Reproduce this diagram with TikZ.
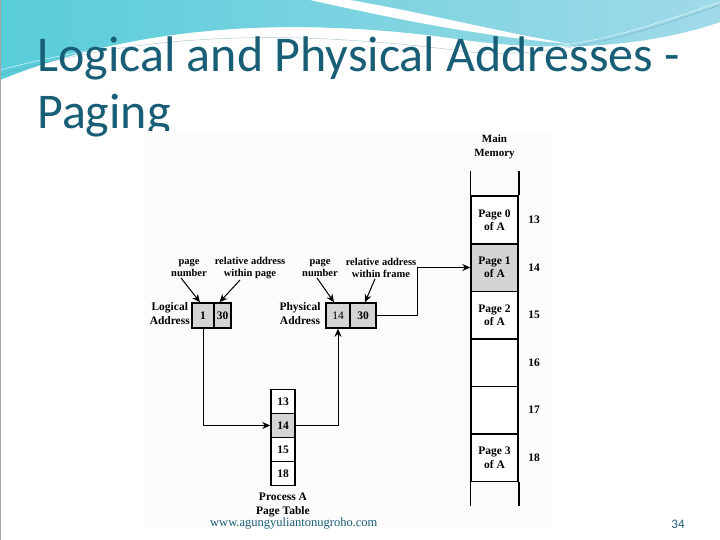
\documentclass[tikz,border=0pt]{standalone}
\usepackage{fontspec}
\setmainfont{Liberation Serif}
\newfontfamily\titlefont{Carlito}
\usetikzlibrary{arrows.meta}
\definecolor{titleteal}{RGB}{24,94,118}
\definecolor{swirlcyan}{RGB}{88,204,218}
\definecolor{swirlmid}{RGB}{118,184,212}
\definecolor{swirllight}{RGB}{160,218,232}
\definecolor{cellgray}{RGB}{212,212,212}
\tikzset{
  cell/.style={draw, line width=1.5pt, fill=white, inner sep=0pt, align=center, font=\bfseries\fontsize{11.5}{13.5}\selectfont},
  memcell/.style={cell, minimum width=47pt, minimum height=47.5pt},
  ptcell/.style={cell, minimum width=24pt, minimum height=24pt},
  lbl/.style={align=center, inner sep=1pt, font=\bfseries\fontsize{10.5}{12}\selectfont},
  biglbl/.style={align=center, inner sep=1pt, font=\bfseries\fontsize{11.5}{14}\selectfont},
  tool/.style={-{Stealth[length=8pt,width=7pt]}, line width=1pt},
  slide/.style={text=titleteal, inner sep=0pt}
}

\begin{document}
\begin{tikzpicture}[x=1pt,y=-1pt]
  \useasboundingbox (0,0) rectangle (720,540);
  % slide background and top swirl
  \fill[white] (0,0) rectangle (720,540);
  \shade[left color=swirlcyan, middle color=swirlmid, right color=swirllight]
    (0,0) -- (720,0) -- (720,22) .. controls (640,50) and (540,52) .. (450,38)
    .. controls (330,22) and (160,15) .. (0,80) -- cycle;
  \fill[white] (310,0) -- (350,0) .. controls (420,12) and (500,32) .. (570,44)
    .. controls (480,36) and (400,20) .. (310,0);
  \draw[swirlmid!80!black, opacity=0.5, line width=0.5pt] (0,75) .. controls (150,30) and (300,30) .. (470,52)
    .. controls (560,60) and (650,30) .. (720,5);
  \draw[white, opacity=0.7, line width=0.6pt] (0,70) .. controls (160,28) and (310,26) .. (480,47)
    .. controls (570,56) and (650,26) .. (720,2);
  \draw[gray!70, line width=1pt] (0,0) rectangle (720,540);

  % title
  \node[slide, anchor=base west, font=\titlefont\fontsize{50}{57}\selectfont] (title1) at (37,72) {Logical and Physical Addresses -};
  \node[slide, anchor=base west, font=\titlefont\fontsize{50}{57}\selectfont] (title2) at (37,129) {Paging};

  % figure area
  \fill[gray!3] (144,131) rectangle (552,527);

  % main memory
  \node[biglbl, font=\bfseries\fontsize{11}{14}\selectfont] (mmlbl) at (494.5,147) {Main\\Memory};
  \node[memcell] (m13) at (494.5,220) {Page 0\\of A};
  \node[memcell, fill=cellgray] (m14) at (494.5,267.5) {Page 1\\of A};
  \node[memcell] (m15) at (494.5,315) {Page 2\\of A};
  \node[memcell] (m16) at (494.5,362.5) {};
  \node[memcell] (m17) at (494.5,410) {};
  \node[memcell] (m18) at (494.5,457.5) {Page 3\\of A};
  \draw[line width=1.5pt] (m13.north west) -- ++(0,-24);
  \draw[line width=1.5pt] (m13.north east) -- ++(0,-24);
  \draw[line width=1.5pt] (m18.south west) -- ++(0,24);
  \draw[line width=1.5pt] (m18.south east) -- ++(0,24);
  \node[biglbl] (f13) at (534,220) {13};
  \node[biglbl] (f14) at (534,267.5) {14};
  \node[biglbl] (f15) at (534,315) {15};
  \node[biglbl] (f16) at (534,362.5) {16};
  \node[biglbl] (f17) at (534,410) {17};
  \node[biglbl] (f18) at (534,457.5) {18};

  % logical address
  \node[cell, fill=cellgray, minimum width=22pt, minimum height=25pt] (la1) at (203,315.5) {1};
  \node[cell, fill=cellgray, minimum width=17pt, minimum height=25pt] (la2) at (222.5,315.5) {30};
  \node[biglbl, anchor=east] (lalbl) at (191,314) {Logical\\Address};
  \node[lbl] (lpage) at (189,268) {page\\number};
  \node[lbl] (loff) at (250,268) {relative address\\within page};
  \draw[tool] ([xshift=-8pt]lpage.south) -- ([xshift=-3pt]la1.north);
  \draw[tool] ([xshift=-10pt]loff.south) -- ([xshift=-3pt]la2.north);

  % physical address
  \node[cell, fill=cellgray, minimum width=24pt, minimum height=25pt, font=\fontsize{11.5}{13.5}\selectfont] (pa1) at (338,315.5) {14};
  \node[cell, fill=cellgray, minimum width=26pt, minimum height=25pt] (pa2) at (363,315.5) {30};
  \node[biglbl] (palbl) at (300,314) {Physical\\Address};
  \node[lbl] (ppage) at (320,268) {page\\number};
  \node[lbl] (poff) at (381,268) {relative address\\within frame};
  \draw[tool] ([xshift=-3pt]ppage.south) -- ([xshift=-4pt]pa1.north);
  \draw[tool] ([xshift=-6pt]poff.south) -- ([xshift=2pt]pa2.north);

  % page table
  \node[ptcell] (pt13) at (283,401.5) {13};
  \node[ptcell, fill=cellgray] (pt14) at (283,425.5) {14};
  \node[ptcell] (pt15) at (283,449.5) {15};
  \node[ptcell] (pt18) at (283,473.5) {18};
  \node[biglbl] (ptlbl) at (283,505) {Process A\\Page Table};

  % translation path
  \draw[tool] (la1.south) |- (pt14.west);
  \draw[tool] (pt14.east) -| (pa1.south);
  \draw[tool] (pa2.east) -- ++(41,0) |- (m14.west);

  % footer
  \node[anchor=base west, inner sep=0pt, text=titleteal, font=\fontsize{12.5}{14}\selectfont] (url) at (210,526) {www.agungyuliantonugroho.com};
  \node[slide, anchor=base, font=\titlefont\fontsize{13}{15}\selectfont] (pgno) at (678,528) {34};
\end{tikzpicture}
\end{document}
